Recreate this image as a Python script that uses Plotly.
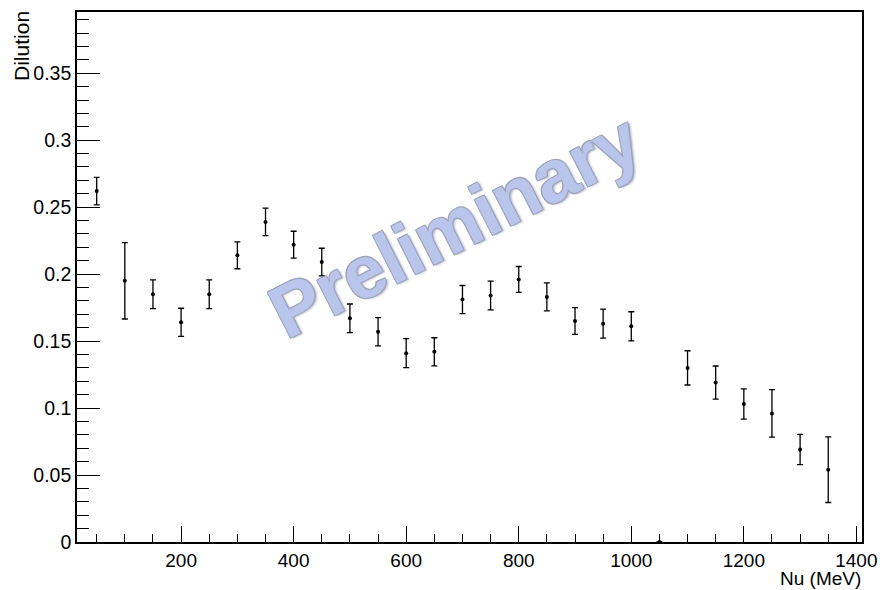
import plotly.graph_objects as go

# Dilution per photon-energy bin (bin centres in MeV)
nu_mev = [50, 100, 150, 200, 250, 300, 350, 400, 450, 500, 550, 600, 650, 700,
          750, 800, 850, 900, 950, 1000, 1050, 1100, 1150, 1200, 1250, 1300, 1350]
dilution = [0.262, 0.195, 0.185, 0.164, 0.185, 0.214, 0.239, 0.222, 0.209, 0.167,
            0.157, 0.141, 0.142, 0.181, 0.184, 0.196, 0.183, 0.165, 0.163, 0.161,
            0.0, 0.130, 0.119, 0.103, 0.096, 0.069, 0.054]
dilution_err = [0.0103, 0.0285, 0.0107, 0.0105, 0.0107, 0.0100, 0.0103, 0.0100, 0.0103, 0.0107,
                0.0105, 0.0108, 0.0105, 0.0105, 0.0107, 0.0097, 0.0105, 0.0100, 0.0108, 0.0109,
                0.0, 0.0128, 0.0124, 0.0113, 0.0177, 0.0113, 0.0245]

y_tick_vals = [0, 0.05, 0.1, 0.15, 0.2, 0.25, 0.3, 0.35]
y_tick_text = ["0", "0.05", "0.1", "0.15", "0.2", "0.25", "0.3", "0.35"]
x_tick_vals = [200, 400, 600, 800, 1000, 1200, 1400]
x_tick_text = ["200", "400", "600", "800", "1000", "1200", "1400"]

FONT = "Liberation Sans, Arial, Helvetica, sans-serif"

fig = go.Figure()

fig.add_trace(go.Scatter(
    x=nu_mev,
    y=dilution,
    mode="markers",
    marker=dict(color="black", size=4),
    error_y=dict(type="data", array=dilution_err, visible=True,
                 color="black", thickness=1.3, width=3),
    cliponaxis=False,
    showlegend=False,
))

# Watermark
fig.add_annotation(
    text="Preliminary",
    xref="paper", yref="paper",
    x=0.4815, y=0.597,
    xanchor="center", yanchor="middle",
    showarrow=False,
    textangle=-27,
    opacity=0.72,
    font=dict(family=FONT, size=74, weight="bold", color="rgb(160,176,228)",
              shadow="1px 1px 0 #7a82a0, -1px -1px 0 #7a82a0, 1px -1px 0 #7a82a0, "
                     "-1px 1px 0 #7a82a0, 2px 2px 2px #a4aac0"),
)

# Axis titles, ROOT style (placed at the axis ends)
fig.add_annotation(
    text="Dilution", xref="paper", yref="paper",
    x=-0.070, y=0.936, xanchor="center", yanchor="middle",
    textangle=-90, showarrow=False,
    font=dict(family=FONT, size=21, color="black"),
)
fig.add_annotation(
    text="Nu (MeV)", xref="paper", yref="paper",
    x=1.0, y=-0.0695, xanchor="right", yanchor="middle",
    showarrow=False, borderpad=0,
    font=dict(family=FONT, size=19, color="black"),
)

fig.update_layout(
    width=892, height=590,
    margin=dict(l=77, r=30, t=10, b=48),
    paper_bgcolor="white",
    plot_bgcolor="white",
    font=dict(family=FONT, size=19, color="black"),
    xaxis=dict(
        range=[15, 1410],
        showgrid=False, zeroline=False,
        showline=True, linecolor="black", linewidth=1.6, mirror=True,
        ticks="inside", ticklen=16, tickwidth=1.3, tickcolor="black",
        tickvals=x_tick_vals, ticktext=x_tick_text,
        tickfont=dict(family=FONT, size=19, color="black"),
        minor=dict(ticks="inside", ticklen=8, tickwidth=1.2, tickcolor="black", dtick=50,
                   tick0=0, showgrid=False),
    ),
    yaxis=dict(
        range=[0, 0.3957],
        showgrid=False, zeroline=False,
        showline=True, linecolor="black", linewidth=1.6, mirror=True,
        ticks="inside", ticklen=23, tickwidth=1.3, tickcolor="black",
        tickvals=y_tick_vals, ticktext=y_tick_text,
        tickfont=dict(family=FONT, size=19.5, color="black"),
        minor=dict(ticks="inside", ticklen=12, tickwidth=1.2, tickcolor="black", dtick=0.01,
                   tick0=0, showgrid=False),
    ),
)

fig.write_html("out.html")
